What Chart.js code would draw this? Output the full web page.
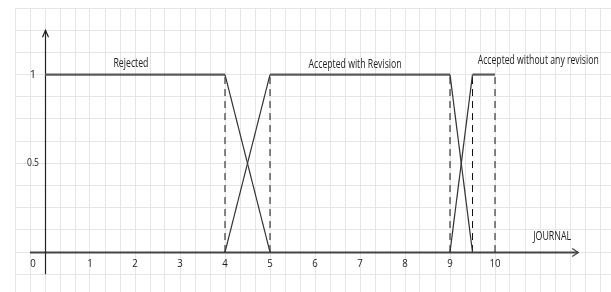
<!DOCTYPE html>
<html>
<head>
<meta charset="utf-8">
<script src="https://cdn.jsdelivr.net/npm/chart.js@4/dist/chart.umd.min.js"></script>
<style>
  html, body { margin: 0; padding: 0; background: #fff; }
  #wrap { width: 611px; height: 292px; }
</style>
</head>
<body>
<div id="wrap"><canvas id="chart"></canvas></div>
<script>
// === Data ===
const xTickLabels = [0, 1, 2, 3, 4, 5, 6, 7, 8, 9, 10];
const yTickLabels = [0.5, 1];

const rejectedX = [0, 4, 5];
const rejectedY = [1, 1, 0];
const revisionX = [4, 5, 9, 9.5];
const revisionY = [0, 1, 1, 0];
const withoutX = [9, 9.5, 10];
const withoutY = [0, 1, 1];
const dashX = [4, 5, 9, 9.5, 10];

const regionNames = ["Rejected", "Accepted with Revision", "Accepted without any revision"];
const axisName = "JOURNAL";

const FONT = "'Open Sans', sans-serif";

function pts(xs, ys) {
  return xs.map((x, i) => ({ x, y: ys[i] }));
}

// dashed drop lines, broken by nulls
const dashPts = [];
dashX.forEach(x => {
  dashPts.push({ x, y: 0 }, { x, y: 1 }, { x, y: null });
});

const flat = ctx => ctx.p0.parsed.y === ctx.p1.parsed.y;
const fuzzy = data => ({
  data,
  borderColor: "#444",
  borderWidth: 1,
  pointRadius: 0,
  tension: 0,
  segment: {
    borderWidth: ctx => (flat(ctx) ? 2.2 : 1.2),
    borderColor: ctx => (flat(ctx) ? "#5a5a5a" : "#333"),
  },
});

// === Axes, arrows, text ===
const decor = {
  id: "decor",
  beforeDatasetsDraw(chart) {
    const { ctx, scales: { x, y } } = chart;
    ctx.save();
    // x axis
    const y0 = Math.round(y.getPixelForValue(0)) + 0.5;
    const xs = x.getPixelForValue(-1 / 3);
    const xe = x.getPixelForValue(11.85);
    ctx.strokeStyle = "#444";
    ctx.lineWidth = 2;
    ctx.beginPath();
    ctx.moveTo(xs, y0);
    ctx.lineTo(xe, y0);
    ctx.stroke();
    ctx.lineWidth = 1.3;
    ctx.beginPath();
    ctx.moveTo(xe - 6, y0 - 4);
    ctx.lineTo(xe, y0);
    ctx.lineTo(xe - 6, y0 + 4);
    ctx.stroke();
    // y axis
    const x0 = Math.round(x.getPixelForValue(0)) + 0.5;
    const ys = y.getPixelForValue(-0.125);
    const ye = y.getPixelForValue(1.25);
    ctx.strokeStyle = "#222";
    ctx.lineWidth = 1.2;
    ctx.beginPath();
    ctx.moveTo(x0, ys);
    ctx.lineTo(x0, ye);
    ctx.stroke();
    ctx.beginPath();
    ctx.moveTo(x0 - 3, ye + 7);
    ctx.lineTo(x0, ye);
    ctx.lineTo(x0 + 3, ye + 7);
    ctx.stroke();
    ctx.restore();
  },
  afterDatasetsDraw(chart) {
    const { ctx, scales: { x, y } } = chart;
    ctx.save();
    ctx.fillStyle = "#222";
    ctx.font = "11px " + FONT;
    ctx.textAlign = "center";
    ctx.textBaseline = "middle";
    const ty = y.getPixelForValue(0) + 12;
    xTickLabels.forEach(v => {
      const px = x.getPixelForValue(v) - (v === 0 ? 12 : 0);
      const s = String(v);
      ctx.fillText(s, px, ty, s.length * 5.5);
    });
    yTickLabels.forEach(v => {
      ctx.fillText(String(v), 33, y.getPixelForValue(v), 12);
    });
    ctx.font = "12px " + FONT;
    // label centre (data coords) and squeezed width, mimicking a condensed face
    const spots = [[1.91, 1.06, 35], [6.89, 1.054, 93], [10.96, 1.08, 121]];
    regionNames.forEach((t, i) => {
      const [sx, sy, w] = spots[i];
      ctx.fillText(t, x.getPixelForValue(sx), y.getPixelForValue(sy), w);
    });
    ctx.fillText(axisName, x.getPixelForValue(11.27), y.getPixelForValue(0.09), 38);
    ctx.restore();
  },
};

const gridScale = (min, max, step) => ({
  type: "linear",
  min,
  max,
  afterBuildTicks: axis => {
    const t = [];
    for (let k = Math.ceil(min / step - 1e-9); k * step <= max + 1e-9; k++) t.push({ value: k * step });
    axis.ticks = t;
  },
  ticks: { display: false },
  border: { display: false },
  grid: { color: "#e6e6e6", lineWidth: 1, drawTicks: false },
});

new Chart(document.getElementById("chart"), {
  type: "line",
  data: {
    datasets: [
      fuzzy(pts(rejectedX, rejectedY)),
      fuzzy(pts(revisionX, revisionY)),
      fuzzy(pts(withoutX, withoutY)),
      {
        data: dashPts,
        borderColor: "#111",
        borderWidth: 1,
        borderDash: [7, 5],
        pointRadius: 0,
        spanGaps: false,
      },
    ],
  },
  options: {
    responsive: true,
    maintainAspectRatio: false,
    animation: false,
    layout: { padding: { left: 15, top: 8, right: 0, bottom: 0 } },
    plugins: { legend: { display: false }, tooltip: { enabled: false } },
    scales: {
      x: gridScale(-2 / 3, -2 / 3 + 596 / 45, 1 / 3),
      y: gridScale(1.375 - 284 / 177.5, 1.375, 0.125),
    },
  },
  plugins: [decor],
});
</script>
</body>
</html>
